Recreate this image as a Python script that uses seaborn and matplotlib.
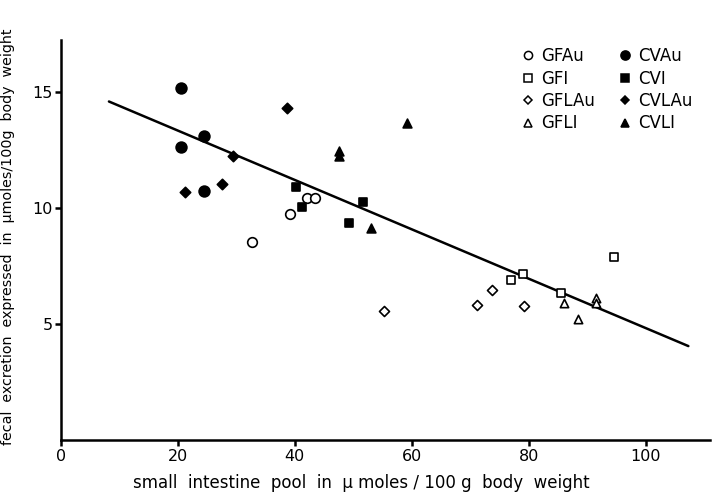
import matplotlib
matplotlib.use("Agg")
import matplotlib.pyplot as plt
import seaborn as sns
import pandas as pd
from matplotlib.lines import Line2D

sns.set_theme(style="white")
plt.rcParams['font.family'] = ['DejaVu Sans']

# ---- data ----
groups = ["GFAu", "GFI", "GFLAu", "GFLI", "CVAu", "CVI", "CVLAu", "CVLI"]
gfau_x = [32.6, 39.2, 42.1, 43.5]
gfau_y = [8.56, 9.74, 10.43, 10.44]
cvau_x = [20.6, 20.6, 24.5, 24.5]
cvau_y = [15.17, 12.64, 13.13, 10.75]
gfi_x = [77.0, 79.1, 85.6, 94.6]
gfi_y = [6.90, 7.18, 6.34, 7.89]
cvi_x = [40.2, 41.3, 49.3, 51.6]
cvi_y = [10.90, 10.07, 9.37, 10.26]
gflau_x = [55.2, 71.2, 73.7, 79.2]
gflau_y = [5.59, 5.85, 6.48, 5.79]
cvlau_x = [21.2, 27.5, 29.4, 38.6]
cvlau_y = [10.72, 11.05, 12.25, 14.31]
gfli_x = [86.1, 88.4, 91.5, 91.5]
gfli_y = [5.90, 5.23, 6.15, 5.93]
cvli_x = [47.6, 47.6, 53.0, 59.2]
cvli_y = [12.48, 12.27, 9.15, 13.66]

line_x = [8.2, 107.3]
line_y = [14.6, 4.06]

x_ticks = [0, 20, 40, 60, 80, 100]
y_ticks = [5, 10, 15]

series = {
    "GFAu": (gfau_x, gfau_y), "GFI": (gfi_x, gfi_y),
    "GFLAu": (gflau_x, gflau_y), "GFLI": (gfli_x, gfli_y),
    "CVAu": (cvau_x, cvau_y), "CVI": (cvi_x, cvi_y),
    "CVLAu": (cvlau_x, cvlau_y), "CVLI": (cvli_x, cvli_y),
}
rows = []
for g, (xs, ys) in series.items():
    for xv, yv in zip(xs, ys):
        rows.append({"group": g, "x": xv, "y": yv})
df = pd.DataFrame(rows)

styles = {
    "GFAu": dict(marker="o", filled=False, s=48),
    "GFI": dict(marker="s", filled=False, s=38),
    "GFLAu": dict(marker="D", filled=False, s=26),
    "GFLI": dict(marker="^", filled=False, s=36),
    "CVAu": dict(marker="o", filled=True, s=60),
    "CVI": dict(marker="s", filled=True, s=40),
    "CVLAu": dict(marker="D", filled=True, s=28),
    "CVLI": dict(marker="^", filled=True, s=40),
}

fig = plt.figure(figsize=(7.17, 4.99), dpi=100)
ax = fig.add_axes([61 / 717, 1 - 440.3 / 499, (710 - 61) / 717, (440.3 - 40) / 499])

line_df = pd.DataFrame({"x": line_x, "y": line_y})
sns.lineplot(data=line_df, x="x", y="y", ax=ax, color="black", lw=1.8, zorder=2)

for g in groups:
    st = styles[g]
    sub = df[df["group"] == g]
    sns.scatterplot(data=sub, x="x", y="y", ax=ax, marker=st["marker"], s=st["s"],
                    facecolor=("black" if st["filled"] else "white"),
                    edgecolor="black", linewidth=1.2, zorder=3, legend=False)

ax.set_xlim(0, 111)
ax.set_ylim(0, 17.25)
ax.set_xticks(x_ticks)
ax.set_yticks(y_ticks)
ax.set_xticklabels([str(t) for t in x_ticks], fontsize=11.5)
ax.set_yticklabels([str(t) for t in y_ticks], fontsize=11.5)
for sp in ["top", "right"]:
    ax.spines[sp].set_visible(False)
for sp in ["left", "bottom"]:
    ax.spines[sp].set_color("black")
    ax.spines[sp].set_linewidth(1.8)
ax.tick_params(axis="both", direction="out", length=4, width=1.8, color="black",
               labelcolor="black", pad=2, bottom=True, left=True)

ax.set_xlabel("small  intestine  pool  in  \u03bc moles / 100 g  body  weight", fontsize=12,
              color="black")
ax.xaxis.set_label_coords(0.462, -0.085)
ax.set_ylabel("fecal  excretion  expressed  in  \u03bcmoles/100g  body  weight", fontsize=10.3,
              color="black")
ax.yaxis.set_label_coords(-0.071, 0.508)

handles = []
for g in groups:
    st = styles[g]
    ms = (st["s"] ** 0.5) * 0.85
    handles.append(Line2D([], [], linestyle="none", marker=st["marker"], markersize=ms,
                          markerfacecolor=("black" if st["filled"] else "white"),
                          markeredgecolor="black", markeredgewidth=1.1, label=g))
leg = ax.legend(handles=handles, ncol=2, frameon=False, loc="upper left",
                bbox_to_anchor=(521 / 717, 1 - 47 / 499), bbox_transform=fig.transFigure,
                fontsize=12, handlelength=0.8, handletextpad=0.4, columnspacing=1.4,
                labelspacing=0.27, borderaxespad=0, borderpad=0, labelcolor="black")

fig.savefig("out.png", dpi=100)
